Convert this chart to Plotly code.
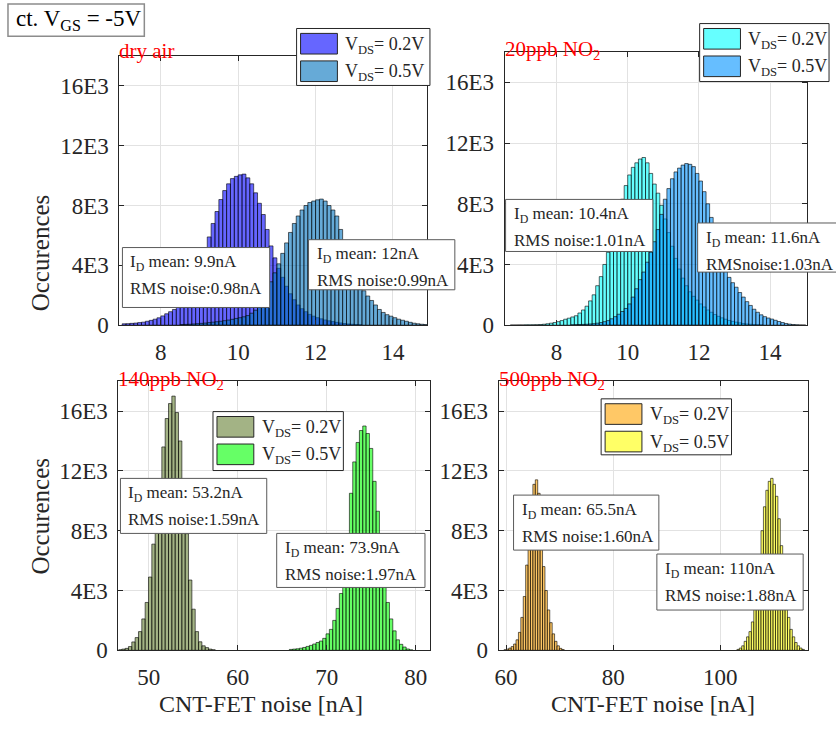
import plotly.graph_objects as go

W, H = 836, 736
FONT = "Liberation Serif"
DARK = "rgb(38,38,38)"

# ---------------- data (bin start, bin width, counts) ----------------
# dry air
dry_02_start, dry_02_bw = 7.0, 0.1
dry_02 = [90, 100, 120, 140, 170, 200, 260, 320, 400, 490, 620, 760, 900, 1050, 1250,
          1500, 1800, 2200, 2700, 3300, 4100, 5000, 5900, 6800, 7600, 8400, 9000, 9450,
          9800, 9950, 10050, 10100, 9850, 9450, 8850, 8150, 7400, 6400, 5300, 4500, 3800,
          3200, 2600, 2100, 1700, 1350, 1100, 900, 720, 600, 500, 420, 350, 290, 240, 190,
          150, 110, 80, 60, 40, 25]
dry_05_start, dry_05_bw = 8.5, 0.1
dry_05 = [40, 50, 60, 80, 100, 120, 140, 170, 200, 230, 260, 300, 340, 390, 450, 500, 560,
          640, 800, 1000, 1300, 1750, 2300, 2900, 3500, 4100, 4800, 5500, 6200, 6800, 7300,
          7700, 8000, 8200, 8300, 8380, 8430, 8300, 8000, 7700, 7300, 6400, 5600, 4900, 4200,
          3500, 2800, 2300, 1950, 1650, 1350, 1050, 850, 700, 600, 500, 400, 330, 260, 190,
          130, 90, 60, 40, 25]
# 20 ppb NO2
p20_02_start, p20_02_bw = 6.7, 0.1
p20_02 = [10, 10, 15, 15, 20, 20, 25, 30, 40, 60, 90, 130, 170, 230, 300, 390, 460, 540,
          620, 800, 1000, 1250, 1600, 2000, 2600, 3200, 4000, 4800, 5700, 6600, 7500, 8300,
          9200, 9900, 10400, 10700, 10950, 11050, 10700, 10000, 9300, 8700, 7900, 7000, 6100,
          5200, 4400, 3700, 3100, 2600, 2200, 1900, 1650, 1400, 1200, 1000, 850, 700, 580,
          480, 390, 310, 250, 200, 150, 110, 80, 60, 40, 25, 15]
p20_05_start, p20_05_bw = 8.4, 0.1
p20_05 = [20, 30, 40, 50, 60, 80, 100, 130, 170, 230, 300, 420, 560, 720, 900, 1100, 1400,
          1850, 2400, 3000, 3500, 4150, 4800, 5500, 6300, 7300, 8300, 9000, 9650, 10100,
          10350, 10550, 10650, 10600, 10450, 10000, 9500, 8800, 8000, 7100, 6200, 5300, 4400,
          3700, 3150, 2800, 2500, 2150, 1850, 1550, 1300, 1050, 850, 680, 560, 470, 400, 320,
          240, 170, 110, 70, 40, 25, 15, 10]
# 140 ppb NO2
p140_02_start, p140_02_bw = 46.6, 0.375
p140_02 = [40, 80, 130, 250, 560, 850, 1250, 2100, 3200, 4900, 7100, 9300, 11200, 13600,
           15500, 16500, 17000, 15900, 14000, 11300, 7800, 4700, 2750, 1250, 570, 300, 180,
           80, 40]
p140_05_start, p140_05_bw = 65.8, 0.375
p140_05 = [60, 80, 100, 140, 190, 260, 330, 420, 520, 620, 800, 1100, 1400, 2000, 2800,
           3800, 5500, 7800, 10500, 12600, 13900, 14700, 15000, 14500, 13500, 11300, 9300,
           6800, 4300, 3200, 2100, 1300, 700, 400, 220, 90, 30]
# 500 ppb NO2
p500_02_start, p500_02_bw = 59.6, 0.45
p500_02 = [40, 80, 150, 250, 420, 700, 1200, 2200, 3600, 5700, 8000, 10200, 11100, 11400,
           10500, 8000, 5600, 4000, 2700, 1850, 1100, 600, 300, 130, 50]
p500_05_start, p500_05_bw = 103.1, 0.45
p500_05 = [60, 150, 300, 600, 900, 1250, 1900, 2900, 4300, 6300, 8000, 9600, 10700, 11300,
           11500, 11100, 10300, 8800, 7000, 5200, 3600, 2200, 1400, 900, 520, 300, 150, 60]

panel_titles = ["dry air", "20ppb NO<sub>2</sub>", "140ppb NO<sub>2</sub>", "500ppb NO<sub>2</sub>"]
series_labels = ["V<sub>DS</sub>= 0.2V", "V<sub>DS</sub>= 0.5V"]
y_tickvals = [0, 4000, 8000, 12000, 16000]
y_ticktext = ["0", "4E3", "8E3", "12E3", "16E3"]
x_ticks = [[8, 10, 12, 14], [8, 10, 12, 14], [50, 60, 70, 80], [60, 80, 100]]
stats = [
    [["I<sub>D</sub> mean: 9.9nA", "RMS noise:0.98nA"], ["I<sub>D</sub> mean: 12nA", "RMS noise:0.99nA"]],
    [["I<sub>D</sub> mean: 10.4nA", "RMS noise:1.01nA"], ["I<sub>D</sub> mean: 11.6nA", "RMSnoise:1.03nA"]],
    [["I<sub>D</sub> mean: 53.2nA", "RMS noise:1.59nA"], ["I<sub>D</sub> mean: 73.9nA", "RMS noise:1.97nA"]],
    [["I<sub>D</sub> mean: 65.5nA", "RMS noise:1.60nA"], ["I<sub>D</sub> mean: 110nA", "RMS noise:1.88nA"]],
]
x_title = "CNT-FET noise [nA]"
y_title = "Occurences"
header = "ct. V<sub>GS</sub> = -5V"

series = [
    [(dry_02_start, dry_02_bw, dry_02), (dry_05_start, dry_05_bw, dry_05)],
    [(p20_02_start, p20_02_bw, p20_02), (p20_05_start, p20_05_bw, p20_05)],
    [(p140_02_start, p140_02_bw, p140_02), (p140_05_start, p140_05_bw, p140_05)],
    [(p500_02_start, p500_02_bw, p500_02), (p500_05_start, p500_05_bw, p500_05)],
]
# MATLAB-like face colours (drawn with 0.6 alpha)
colors = [
    [(0, 0, 255), (0, 114, 189)],
    [(0, 255, 255), (0, 147, 255)],
    [(102, 128, 51), (0, 255, 0)],
    [(255, 163, 0), (255, 255, 0)],
]
ALPHA = 0.6

# ---------------- layout geometry (pixels) ----------------
panels = [
    dict(x0=116, x1=425, y0=57, y1=331, xr=[6.93, 14.88]),
    dict(x0=503, x1=807, y0=53, y1=331, xr=[6.54, 15.04]),
    dict(x0=115, x1=428, y0=388, y1=662, xr=[46.6, 81.6]),
    dict(x0=497, x1=808, y0=388, y1=662, xr=[58.6, 116.4]),
]
title_drop = [9, 13, 14, 14]
legend_boxes = [(294, 29, 428, 87), (699, 24, 829, 83), (210, 419, 341, 479), (600, 406, 731, 463)]
stat_boxes = [
    [(119, 252, 267, 313), (306, 244, 453, 295)],
    [(504, 203, 652, 256), (697, 227, 840, 277)],
    [(117, 487, 264, 543), (274, 543, 423, 598)],
    [(512, 504, 658, 560), (656, 564, 803, 621)],
]


def px(x):
    return x / W


def py(y):
    return 1 - y / H


def blend(c):
    return "rgb(%d,%d,%d)" % tuple(round(ALPHA * v + (1 - ALPHA) * 255) for v in c)


fig = go.Figure()
shapes = []
annotations = []

for i, p in enumerate(panels):
    sfx = "" if i == 0 else str(i + 1)
    for j, (start, bw, counts) in enumerate(series[i]):
        centers = [start + bw * (k + 0.5) for k in range(len(counts))]
        c = colors[i][j]
        fig.add_trace(go.Bar(
            x=centers, y=counts, width=bw,
            marker=dict(color="rgba(%d,%d,%d,%.2f)" % (c[0], c[1], c[2], ALPHA),
                        line=dict(color="black", width=0.6)),
            xaxis="x" + sfx, yaxis="y" + sfx, showlegend=False, hoverinfo="skip"))
    axcommon = dict(showline=True, linecolor=DARK, linewidth=1, mirror="ticks",
                    ticks="inside", ticklen=5, tickcolor=DARK, showgrid=True,
                    gridcolor="rgb(226,226,226)", gridwidth=1, zeroline=False,
                    tickfont=dict(family=FONT, size=23, color=DARK))
    fig.update_layout(**{
        "xaxis" + sfx: dict(domain=[px(p["x0"]), px(p["x1"])], range=p["xr"],
                            anchor="y" + sfx, tickvals=x_ticks[i], ticklabelstandoff=6, **axcommon),
        "yaxis" + sfx: dict(domain=[py(p["y1"]), py(p["y0"])], range=[0, 18000],
                            anchor="x" + sfx, tickvals=y_tickvals, ticktext=y_ticktext,
                            ticklabelstandoff=5, **axcommon),
    })
    # panel title (red)
    annotations.append(dict(text=panel_titles[i], x=px(p["x0"] - 2), y=py(p["y0"] + title_drop[i]),
                            xref="paper", yref="paper", xanchor="left", yanchor="bottom",
                            showarrow=False, font=dict(family=FONT, size=21, color="red")))
    # legend box
    lx0, ly0, lx1, ly1 = legend_boxes[i]
    shapes.append(dict(type="rect", xref="paper", yref="paper", x0=px(lx0), x1=px(lx1),
                       y0=py(ly1), y1=py(ly0), fillcolor="white",
                       line=dict(color=DARK, width=1), layer="above"))
    for j in range(2):
        sy0 = ly0 + 5 + j * 28
        shapes.append(dict(type="rect", xref="paper", yref="paper", x0=px(lx0 + 4),
                           x1=px(lx0 + 41), y0=py(sy0 + 21), y1=py(sy0),
                           fillcolor=blend(colors[i][j]),
                           line=dict(color=DARK, width=1), layer="above"))
        annotations.append(dict(text=series_labels[j], x=px(lx0 + 47), y=py(sy0 + 12),
                                xref="paper", yref="paper", xanchor="left", yanchor="middle",
                                showarrow=False, font=dict(family=FONT, size=18, color=DARK)))
    # stats boxes
    for j in range(2):
        bx0, by0, bx1, by1 = stat_boxes[i][j]
        shapes.append(dict(type="rect", xref="paper", yref="paper", x0=px(bx0), x1=px(bx1),
                           y0=py(by1), y1=py(by0), fillcolor="white",
                           line=dict(color="rgb(90,90,90)", width=1), layer="above"))
        for k, line in enumerate(stats[i][j]):
            annotations.append(dict(text=line, x=px(bx0 + 6), y=py(by0 + 16 + 26 * k),
                                    xref="paper", yref="paper", xanchor="left", yanchor="middle",
                                    showarrow=False, font=dict(family=FONT, size=17, color=DARK)))

# axis titles
for (xc, yc) in [(37, 257), (37, 525)]:
    annotations.append(dict(text=y_title, x=px(xc), y=py(yc), xref="paper", yref="paper",
                            xanchor="center", yanchor="middle", textangle=-90, showarrow=False,
                            font=dict(family=FONT, size=25, color=DARK)))
for xc in [258, 652]:
    annotations.append(dict(text=x_title, x=px(xc), y=py(717), xref="paper", yref="paper",
                            xanchor="center", yanchor="middle", showarrow=False,
                            font=dict(family=FONT, size=24, color=DARK)))

# header box
shapes.append(dict(type="rect", xref="paper", yref="paper", x0=px(4), x1=px(141),
                   y0=py(37), y1=py(4), fillcolor="white",
                   line=dict(color="rgb(140,140,140)", width=1.5), layer="above"))
annotations.append(dict(text=header, x=px(10), y=py(20), xref="paper", yref="paper",
                        xanchor="left", yanchor="middle", showarrow=False,
                        font=dict(family=FONT, size=23, color="black")))

fig.update_layout(width=W, height=H, margin=dict(l=0, r=0, t=0, b=0),
                  plot_bgcolor="white", paper_bgcolor="white", barmode="overlay",
                  showlegend=False, shapes=shapes, annotations=annotations)
fig.write_html("out.html")
